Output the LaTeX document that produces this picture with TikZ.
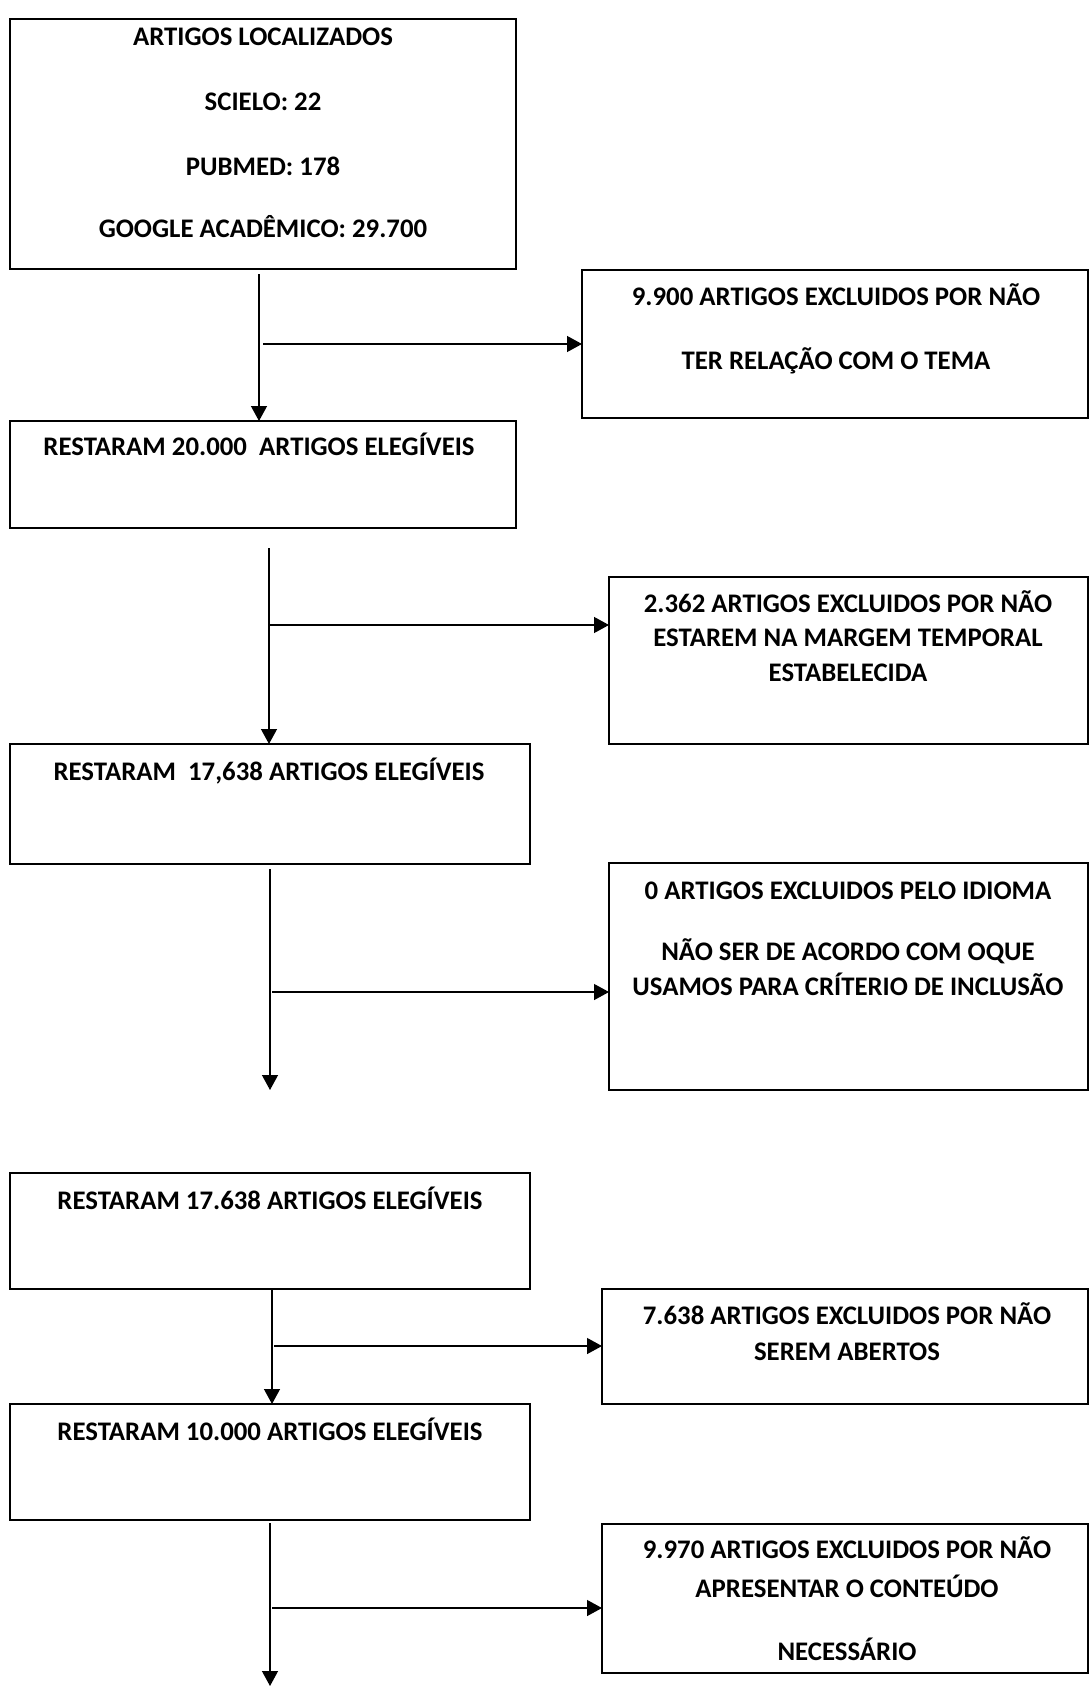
\documentclass[tikz,border=0pt]{standalone}
\usepackage{fontspec}
\setmainfont{Carlito}
\usetikzlibrary{arrows.meta,calc}
\begin{document}
\begin{tikzpicture}[x=1pt,y=-1pt,
  box/.style={draw, line width=2pt, anchor=north west, inner sep=0pt, outer sep=0pt},
  lbl/.style={font=\fontsize{26.8}{32}\selectfont\bfseries, inner sep=0pt, text height=17pt, text depth=0pt},
  arr/.style={line width=1.3pt, -{Triangle[length=15pt,width=16pt]}}]
\useasboundingbox (0,0) rectangle (1089,1686);
% left boxes
\node[box, minimum width=506pt, minimum height=250pt] (b1) at (10,19) {};
\node[box, minimum width=506pt, minimum height=107pt] (b2) at (10,421) {};
\node[box, minimum width=520pt, minimum height=120pt] (b3) at (10,744) {};
\node[box, minimum width=520pt, minimum height=116pt] (b4) at (10,1173) {};
\node[box, minimum width=520pt, minimum height=116pt] (b5) at (10,1404) {};
% right boxes
\node[box, minimum width=506pt, minimum height=148pt] (a1) at (582,270) {};
\node[box, minimum width=479pt, minimum height=167pt] (a2) at (609,577) {};
\node[box, minimum width=479pt, minimum height=227pt] (a3) at (609,863) {};
\node[box, minimum width=486pt, minimum height=115pt] (a4) at (602,1289) {};
\node[box, minimum width=486pt, minimum height=149pt] (a5) at (602,1524) {};
% texts
\node[lbl] (t1a) at (263,37) {ARTIGOS LOCALIZADOS};
\node[lbl] (t1b) at (263,102) {SCIELO: 22};
\node[lbl] (t1c) at (263,167) {PUBMED: 178};
\node[lbl] (t1d) at (263,229) {GOOGLE ACADÊMICO: 29.700};
\node[lbl] (u1a) at (836,297) {9.900 ARTIGOS EXCLUIDOS POR NÃO};
\node[lbl] (u1b) at (836,361) {TER RELAÇÃO COM O TEMA};
\node[lbl] (t2) at (259,447) {RESTARAM 20.000\ \ ARTIGOS ELEGÍVEIS};
\node[lbl] (u2a) at (848,604) {2.362 ARTIGOS EXCLUIDOS POR NÃO};
\node[lbl] (u2b) at (848,638) {ESTAREM NA MARGEM TEMPORAL};
\node[lbl] (u2c) at (848,673) {ESTABELECIDA};
\node[lbl] (t3) at (269,772) {RESTARAM\ \ 17,638 ARTIGOS ELEGÍVEIS};
\node[lbl] (u3a) at (848,891) {0 ARTIGOS EXCLUIDOS PELO IDIOMA};
\node[lbl] (u3b) at (848,952) {NÃO SER DE ACORDO COM OQUE};
\node[lbl] (u3c) at (848,987) {USAMOS PARA CRÍTERIO DE INCLUSÃO};
\node[lbl] (t4) at (270,1201) {RESTARAM 17.638 ARTIGOS ELEGÍVEIS};
\node[lbl] (u4a) at (847,1316) {7.638 ARTIGOS EXCLUIDOS POR NÃO};
\node[lbl] (u4b) at (847,1352) {SEREM ABERTOS};
\node[lbl] (t5) at (270,1432) {RESTARAM 10.000 ARTIGOS ELEGÍVEIS};
\node[lbl] (u5a) at (847,1550) {9.970 ARTIGOS EXCLUIDOS POR NÃO};
\node[lbl] (u5b) at (847,1589) {APRESENTAR O CONTEÚDO};
\node[lbl] (u5c) at (847,1652) {NECESSÁRIO};
% connectors
\coordinate (s1) at (259,274);
\coordinate (j1) at (263,344);
\draw[arr] (s1) -- (s1 |- b2.north);
\draw[arr] (j1) -- (j1 -| a1.west);
\coordinate (s2) at (269,548);
\coordinate (j2) at (269,625);
\draw[arr] (s2) -- (s2 |- b3.north);
\draw[arr] (j2) -- (j2 -| a2.west);
\coordinate (s3) at (270,869);
\coordinate (e3) at (270,1090);
\coordinate (j3) at (272,992);
\draw[arr] (s3) -- (e3);
\draw[arr] (j3) -- (j3 -| a3.west);
\coordinate (s4) at (272,1290);
\coordinate (j4) at (274,1346);
\draw[arr] (s4) -- (s4 |- b5.north);
\draw[arr] (j4) -- (j4 -| a4.west);
\coordinate (s5) at (270,1523);
\coordinate (e5) at (270,1686);
\coordinate (j5) at (272,1608);
\draw[arr] (s5) -- (e5);
\draw[arr] (j5) -- (j5 -| a5.west);
\end{tikzpicture}
\end{document}
